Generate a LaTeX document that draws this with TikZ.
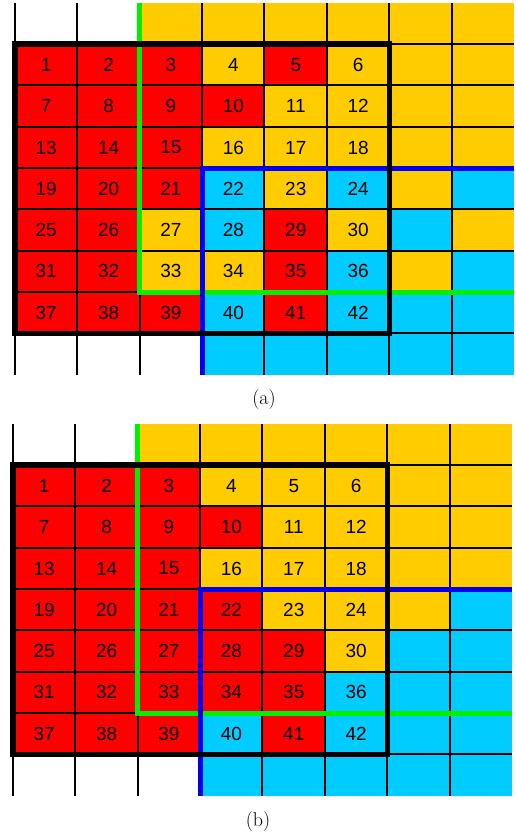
\documentclass[tikz,border=0pt]{standalone}
\usepackage{fontspec}
\setsansfont{Liberation Sans}
\usepackage{tikz}
\usetikzlibrary{positioning}

\definecolor{rd}{HTML}{FF0000}
\definecolor{yl}{HTML}{FFCC00}
\definecolor{bl}{HTML}{00CCFF}
\definecolor{wh}{HTML}{FFFFFF}
\definecolor{greenedge}{HTML}{00EE00}
\definecolor{blueedge}{HTML}{0000F0}

\tikzset{
    cell/.style={minimum width=62.4pt, minimum height=41.3pt, inner sep=0pt,
        font=\sffamily\fontsize{19}{21}\selectfont},
    gridline/.style={line width=2pt, black},
    greenline/.style={line width=5pt, greenedge},
    blueline/.style={line width=5pt, blueedge},
    frameline/.style={line width=5.5pt, black, line join=miter},
    caption/.style={font=\rmfamily\fontsize{20}{24}\selectfont}
}

% one 8x9 grid: name, left x, top y, colours row by row
\newcommand{\cellgrid}[4]{
    \foreach \col [count=\i from 0] in {#4} {
        \pgfmathtruncatemacro{\rownum}{\i/8}
        \pgfmathtruncatemacro{\colnum}{mod(\i,8)}
        \pgfmathtruncatemacro{\cellnum}{(\rownum-1)*6+\colnum+1}
        \node[cell, fill=\col] (#1-\rownum-\colnum)
            at ({#2+(\colnum+0.5)*62.4}, {#3+(\rownum+0.5)*41.3})
            {\ifnum\rownum>0 \ifnum\rownum<8 \ifnum\colnum<6 \cellnum\fi\fi\fi};
    }
    \foreach \c in {0,...,7}
        \draw[gridline] (#1-0-\c.north west) -- (#1-8-\c.south west);
    \foreach \r in {1,...,8}
        \draw[gridline] (#1-\r-0.north west) -- (#1-\r-7.north east);
    \draw[greenline] (#1-0-2.north west) -- (#1-6-2.south west) -- (#1-6-7.south east);
    \draw[blueline] (#1-4-7.north east) -- (#1-4-3.north west) -- (#1-8-3.south west);
    \draw[frameline] (#1-1-0.north west) rectangle (#1-7-5.south east);
}

\begin{document}
\begin{tikzpicture}[x=1pt, y=-1pt]
    \useasboundingbox (0,0) rectangle (516,832);

    \cellgrid{a}{15}{3}{
        wh,wh,yl,yl,yl,yl,yl,yl,
        rd,rd,rd,yl,rd,yl,yl,yl,
        rd,rd,rd,rd,yl,yl,yl,yl,
        rd,rd,rd,yl,yl,yl,yl,yl,
        rd,rd,rd,bl,yl,bl,yl,bl,
        rd,rd,yl,bl,rd,yl,bl,yl,
        rd,rd,yl,yl,rd,bl,yl,bl,
        rd,rd,rd,bl,rd,bl,bl,bl,
        wh,wh,wh,bl,bl,bl,bl,bl}

    \cellgrid{b}{13}{424}{
        wh,wh,yl,yl,yl,yl,yl,yl,
        rd,rd,rd,yl,yl,yl,yl,yl,
        rd,rd,rd,rd,yl,yl,yl,yl,
        rd,rd,rd,yl,yl,yl,yl,yl,
        rd,rd,rd,rd,yl,yl,yl,bl,
        rd,rd,rd,rd,rd,yl,bl,bl,
        rd,rd,rd,rd,rd,bl,bl,bl,
        rd,rd,rd,bl,rd,bl,bl,bl,
        wh,wh,wh,bl,bl,bl,bl,bl}

    \node[caption] (capa) at (264,400) {(a)};
    \node[caption] (capb) at (258,821) {(b)};
\end{tikzpicture}
\end{document}
